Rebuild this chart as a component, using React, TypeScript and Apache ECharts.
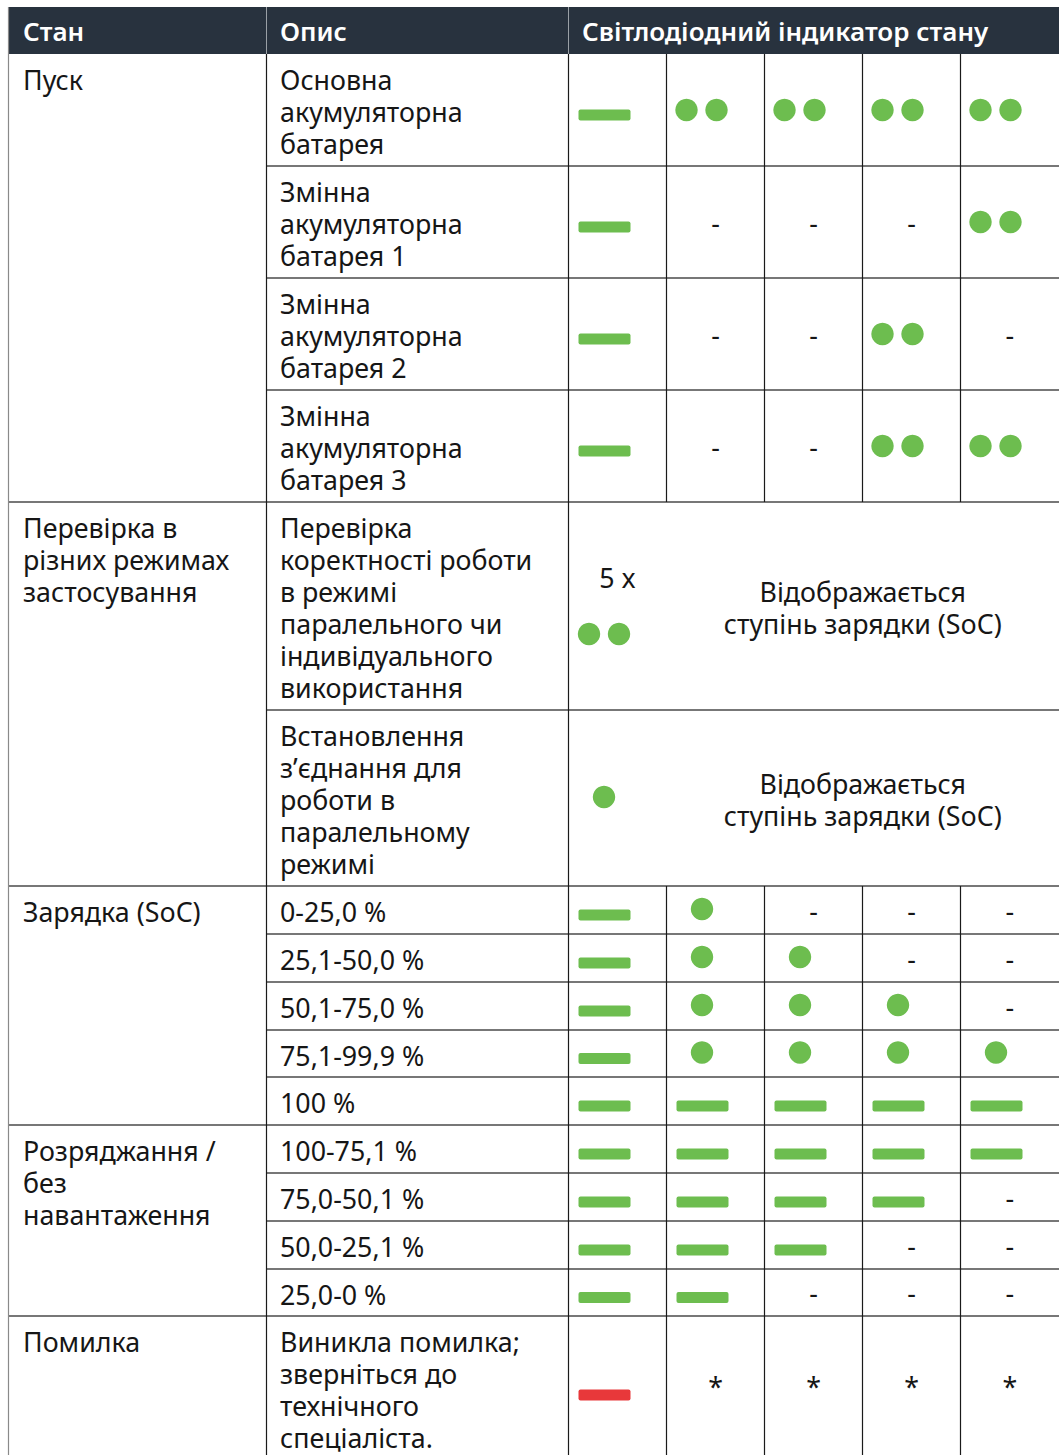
import React, { useEffect, useRef } from "react";
import * as echarts from "echarts";

// ---- data ----
const headerLabels = ["Стан", "Опис", "Світлодіодний індикатор стану"];
const groupLabels = [
  "Пуск",
  "Перевірка в\nрізних режимах\nзастосування",
  "Зарядка (SoC)",
  "Розряджання /\nбез\nнавантаження",
  "Помилка",
];
const groupSizes = [4, 2, 5, 4, 1];
const descriptions = [
  "Основна\nакумуляторна\nбатарея",
  "Змінна\nакумуляторна\nбатарея 1",
  "Змінна\nакумуляторна\nбатарея 2",
  "Змінна\nакумуляторна\nбатарея 3",
  "Перевірка\nкоректності роботи\nв режимі\nпаралельного чи\nіндивідуального\nвикористання",
  "Встановлення\nз’єднання для\nроботи в\nпаралельному\nрежимі",
  "0-25,0 %",
  "25,1-50,0 %",
  "50,1-75,0 %",
  "75,1-99,9 %",
  "100 %",
  "100-75,1 %",
  "75,0-50,1 %",
  "50,0-25,1 %",
  "25,0-0 %",
  "Виникла помилка;\nзверніться до\nтехнічного\nспеціаліста.",
];
// bar = steady green, dots2 = two blinks, dot = one blink, red = red bar
const ledPatterns = [
  ["bar", "dots2", "dots2", "dots2", "dots2"],
  ["bar", "-", "-", "-", "dots2"],
  ["bar", "-", "-", "dots2", "-"],
  ["bar", "-", "-", "dots2", "dots2"],
  ["5x", "soc"],
  ["dot", "soc"],
  ["bar", "dot", "-", "-", "-"],
  ["bar", "dot", "dot", "-", "-"],
  ["bar", "dot", "dot", "dot", "-"],
  ["bar", "dot", "dot", "dot", "dot"],
  ["bar", "bar", "bar", "bar", "bar"],
  ["bar", "bar", "bar", "bar", "bar"],
  ["bar", "bar", "bar", "bar", "-"],
  ["bar", "bar", "bar", "-", "-"],
  ["bar", "bar", "-", "-", "-"],
  ["red", "*", "*", "*", "*"],
];
const blinkCountText = "5 x";
const socText = "Відображається\nступінь зарядки (SoC)";

// ---- layout ----
const W = 1059;
const H = 1455;
const colX = [8.5, 266.5, 568.5, 666.5, 764.5, 862.5, 960.5, 1059];
const headerTop = 7;
const bodyTop = 54;
const rowHeights = [112, 112, 112, 112, 208, 176, 48, 48, 48, 47, 48, 48, 48, 48, 47, 146];
const GREEN = "#6dbd4f";
const RED = "#e8383a";
const HEADER_BG = "#28323e";
const TEXT = "#161616";
const LINE = "#4a4a4a";
const FONT = "'Noto Sans', 'Open Sans', sans-serif";
const FS = 26.8;
const LH = 32;

function textLines(els: any[], text: string, x: number, firstY: number, align: string, font: string) {
  text.split("\n").forEach((line, i) => {
    els.push({
      type: "text",
      x,
      y: firstY + i * LH,
      style: { text: line, fill: TEXT, font, align, verticalAlign: "middle" },
    });
  });
}

function buildGraphics() {
  const els: any[] = [];
  const bodyFont = `${FS}px ${FONT}`;
  // header
  els.push({
    type: "rect",
    shape: { x: colX[0], y: headerTop, width: W - colX[0], height: bodyTop - headerTop },
    style: { fill: HEADER_BG },
  });
  const headerX = [23, 280, 582];
  headerLabels.forEach((t, i) => {
    els.push({
      type: "text",
      x: headerX[i],
      y: (headerTop + bodyTop) / 2,
      style: {
        text: t,
        fill: "#ffffff",
        font: `600 26px ${FONT}`,
        verticalAlign: "middle",
        align: "left",
      },
    });
  });
  [colX[1], colX[2]].forEach((x) => {
    els.push({
      type: "line",
      shape: { x1: x, y1: headerTop, x2: x, y2: bodyTop },
      style: { stroke: "#9aa0a6", lineWidth: 1 },
    });
  });

  // row tops
  const rowTops: number[] = [];
  let y = bodyTop;
  rowHeights.forEach((h) => {
    rowTops.push(y);
    y += h;
  });

  // group labels & horizontal lines
  let r = 0;
  groupSizes.forEach((n, g) => {
    const top = rowTops[r];
    textLines(els, groupLabels[g], 23, top + 25, "left", bodyFont);
    if (g > 0) {
      els.push({
        type: "line",
        shape: { x1: colX[0], y1: top, x2: W, y2: top },
        style: { stroke: LINE, lineWidth: 1.4 },
      });
    }
    for (let k = 1; k < n; k++) {
      const yy = rowTops[r + k];
      els.push({
        type: "line",
        shape: { x1: colX[1], y1: yy, x2: W, y2: yy },
        style: { stroke: LINE, lineWidth: 1.4 },
      });
    }
    r += n;
  });

  // vertical lines
  [colX[0], colX[1], colX[2]].forEach((x, i) => {
    els.push({
      type: "line",
      shape: { x1: x, y1: i === 0 ? headerTop : bodyTop, x2: x, y2: H },
      style: { stroke: i === 0 ? "#8a8a8a" : "#1a1a1a", lineWidth: 1.2 },
    });
  });
  for (let c = 3; c <= 6; c++) {
    let segStart = bodyTop;
    ledPatterns.forEach((p, ri) => {
      const merged = p.length < 5;
      const top = rowTops[ri];
      const bottom = top + rowHeights[ri];
      if (merged) {
        if (top > segStart) {
          els.push({
            type: "line",
            shape: { x1: colX[c], y1: segStart, x2: colX[c], y2: top },
            style: { stroke: "#1a1a1a", lineWidth: 1.2 },
          });
        }
        segStart = bottom;
      }
    });
    els.push({
      type: "line",
      shape: { x1: colX[c], y1: segStart, x2: colX[c], y2: H },
      style: { stroke: "#1a1a1a", lineWidth: 1.2 },
    });
  }

  // descriptions
  descriptions.forEach((d, i) => {
    textLines(els, d, 280, rowTops[i] + 25, "left", bodyFont);
  });

  // LEDs
  const bar = (x0: number, mid: number, color: string) => ({
    type: "rect",
    shape: { x: x0 + 10, y: mid - 0.5, width: 52, height: 11, r: 2 },
    style: { fill: color },
  });
  const circle = (cx: number, cy: number) => ({
    type: "circle",
    shape: { cx, cy, r: 11.2 },
    style: { fill: GREEN },
  });
  ledPatterns.forEach((p, ri) => {
    const top = rowTops[ri];
    const h = rowHeights[ri];
    const mid = top + h / 2;
    p.forEach((code, ci) => {
      const x0 = colX[2 + ci];
      const x1 = code === "soc" ? W : colX[3 + ci];
      const cx = (x0 + x1) / 2;
      if (code === "bar") els.push(bar(x0, mid, GREEN));
      else if (code === "red") els.push(bar(x0, mid + 1, RED));
      else if (code === "dots2") {
        els.push(circle(x0 + 20, mid));
        els.push(circle(x0 + 50, mid));
      } else if (code === "dot") {
        els.push(circle(x0 + 35.5, mid - 1));
      } else if (code === "5x") {
        els.push({
          type: "text",
          x: cx,
          y: mid - 29,
          style: { text: blinkCountText, fill: TEXT, font: bodyFont, align: "center", verticalAlign: "middle" },
        });
        els.push(circle(x0 + 20.5, mid + 28));
        els.push(circle(x0 + 50.5, mid + 28));
      } else if (code === "soc") {
        textLines(els, socText, cx, mid - 15, "center", bodyFont);
      } else if (code === "-" || code === "*") {
        els.push({
          type: "text",
          x: cx,
          y: code === "-" ? mid : mid - 3,
          style: { text: code, fill: TEXT, font: bodyFont, align: "center", verticalAlign: "middle" },
        });
      }
    });
  });
  return els;
}

export default function App() {
  const ref = useRef<HTMLDivElement>(null);
  useEffect(() => {
    if (!ref.current) return;
    const chart = echarts.init(ref.current, undefined, { renderer: "svg" });
    chart.setOption({
      animation: false,
      backgroundColor: "#ffffff",
      graphic: { elements: buildGraphics() },
    });
    return () => chart.dispose();
  }, []);
  return (
    <div
      ref={ref}
      style={{ position: "absolute", left: 0, top: 0, width: W, height: H, background: "#fff" }}
    />
  );
}
